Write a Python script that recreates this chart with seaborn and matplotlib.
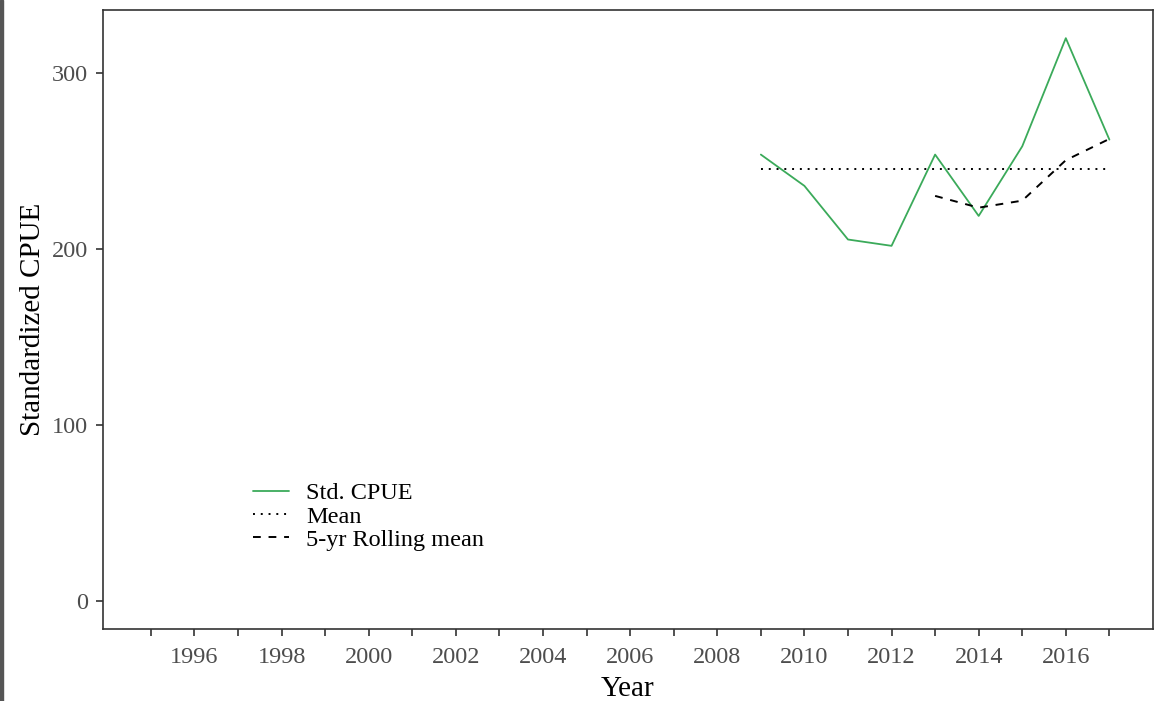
import matplotlib
matplotlib.use("Agg")
import matplotlib.pyplot as plt
import seaborn as sns
import pandas as pd
from matplotlib.patches import Rectangle

# Data
years = [2009, 2010, 2011, 2012, 2013, 2014, 2015, 2016, 2017]
std_cpue = [253.8, 236.0, 205.5, 201.9, 253.8, 218.9, 258.5, 320.0, 262.3]
mean_years = [2009, 2017]
mean_values = [245.6, 245.6]
roll_years = [2013, 2014, 2015, 2016, 2017]
roll_values = [230.3, 223.6, 227.6, 250.6, 262.7]
x_ticks = list(range(1995, 2018))
x_labels = [str(y) if y % 2 == 0 else "" for y in x_ticks]
y_ticks = [0, 100, 200, 300]

sns.set_theme(style="white")
plt.rcParams["font.family"] = ["Liberation Serif", "DejaVu Serif"]

fig = plt.figure(figsize=(11.57, 7.01), dpi=100)
ax = fig.add_axes([0.089, 0.1027, 0.9075, 0.883])

df = pd.DataFrame({"Year": years, "CPUE": std_cpue})
dm = pd.DataFrame({"Year": mean_years, "CPUE": mean_values})
dr = pd.DataFrame({"Year": roll_years, "CPUE": roll_values})

sns.lineplot(data=df, x="Year", y="CPUE", ax=ax, color="#3BAA5A", lw=1.3, label="Std. CPUE")
sns.lineplot(data=dm, x="Year", y="CPUE", ax=ax, color="black", lw=1.4, ls=(0, (1, 3)), label="Mean")
sns.lineplot(data=dr, x="Year", y="CPUE", ax=ax, color="black", lw=1.4, ls=(0, (4, 4)), label="5-yr Rolling mean")

ax.set_xlim(1993.9, 2018.0)
ax.set_ylim(-16, 336)
ax.set_xticks(x_ticks)
ax.set_xticklabels(x_labels)
ax.set_yticks(y_ticks)
ax.tick_params(axis="both", which="major", direction="out", length=5, width=1.2,
               color="#333333", labelsize=17.5, labelcolor="#4D4D4D", pad=6,
               bottom=True, left=True)
ax.tick_params(axis="x", pad=8)
ax.grid(False)
for s in ax.spines.values():
    s.set_color("#333333")
    s.set_linewidth(1.2)

ax.set_xlabel("Year", fontsize=21, color="black", labelpad=6)
ax.set_ylabel("Standardized CPUE", fontsize=21, color="black", labelpad=4)

leg = ax.legend(loc="lower left", bbox_to_anchor=(0.122, 0.091), frameon=False,
                fontsize=17.5, handlelength=1.5, handletextpad=0.7, labelspacing=0.05)
for t in leg.get_texts():
    t.set_color("black")

fig.patches.append(Rectangle((0, 0), 0.0025, 1, transform=fig.transFigure,
                             color="#555555", zorder=10))

fig.savefig("out.png", dpi=100)
